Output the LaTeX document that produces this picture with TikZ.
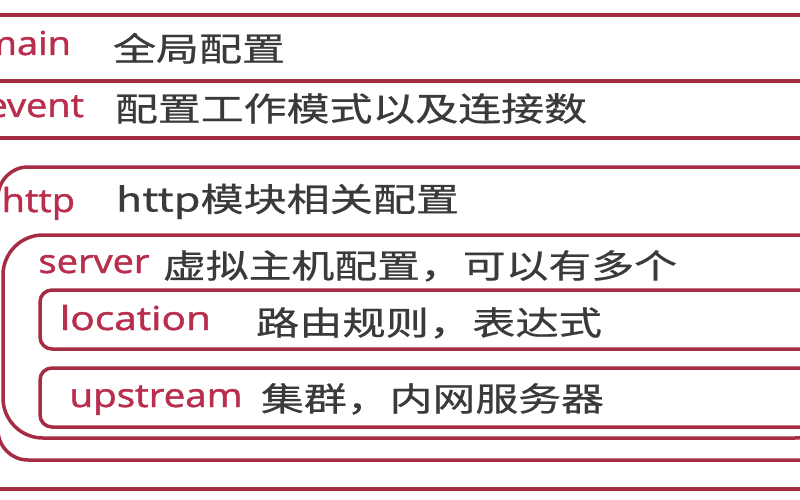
\documentclass[tikz,border=0pt]{standalone}
\usepackage{fontspec}
\setmainfont{Open Sans}
\newfontfamily\labfont{Open Sans}[FakeBold=1.3]
\newfontfamily\cjk{Noto Sans CJK SC}[FakeBold=0.6]
\usepackage{graphicx}
\definecolor{boxred}{RGB}{166,44,68}
\definecolor{labred}{RGB}{184,46,76}
\definecolor{txtgray}{RGB}{58,58,58}
\newcommand{\wfit}[2]{\resizebox{#1}{\height}{#2}}
\begin{document}
\begin{tikzpicture}[x=1pt,y=-1pt,
  frame/.style={draw=boxred,line width=3.5pt},
  lab/.style={inner sep=0pt,outer sep=0pt,text=labred,font=\labfont\fontsize{33}{36}\selectfont},
  desc/.style={inner sep=0pt,outer sep=0pt,text=txtgray,font=\cjk\fontsize{33}{36}\selectfont}]
\useasboundingbox (0,0) rectangle (800,500);
\fill[white] (0,0) rectangle (800,500);
\begin{scope}
\clip (0,0) rectangle (800,500);
% top lines (main / event)
\coordinate (l1a) at (-10,15);  \coordinate (l1b) at (810,15);
\coordinate (l2a) at (-10,81);  \coordinate (l2b) at (810,81);
\coordinate (l3a) at (-10,138); \coordinate (l3b) at (810,138);
\coordinate (l4a) at (-10,489); \coordinate (l4b) at (810,489);
\draw[frame] (l1a) -- (l1b);
\draw[frame] (l2a) -- (l2b);
\draw[frame] (l3a) -- (l3b);
\draw[frame] (l4a) -- (l4b);
% http box
\draw[frame,rounded corners=30pt] (-2,167) rectangle (840,460);
% server box
\draw[frame,rounded corners=40pt] (3,235) rectangle (835,438);
% location box
\draw[frame,rounded corners=12pt] (40,290) rectangle (830,349);
% upstream box
\draw[frame,rounded corners=12pt] (40,368) rectangle (830,427);
% labels
\node[lab,anchor=base east] (main) at (71,55) {\scalebox{1.15}[1]{main}};
\node[lab,anchor=base east] (event) at (84,117) {\scalebox{1.15}[1]{event}};
\node[lab,anchor=base east] (http) at (75,212) {\scalebox{1.15}[1]{http}};
\node[lab,anchor=base west] (server) at (38.5,273) {\wfit{111pt}{server}};
\node[lab,anchor=base west] (location) at (60,330) {\wfit{151pt}{location}};
\node[lab,anchor=base west] (upstream) at (69.5,407) {\wfit{173pt}{upstream}};
% descriptions
\node[desc,anchor=base west] (dmain) at (113,61) {\wfit{172pt}{全局配置}};
\node[desc,anchor=base west] (devent) at (115,121) {\wfit{472pt}{配置工作模式以及连接数}};
\node[desc,anchor=base west] (dhttp) at (116,211.5) {\wfit{343pt}{http模块相关配置}};
\node[desc,anchor=base west] (dserver) at (163,278) {\wfit{514pt}{虚拟主机配置，可以有多个}};
\node[desc,anchor=base west] (dloc) at (256,335) {\wfit{346pt}{路由规则，表达式}};
\node[desc,anchor=base west] (dup) at (261,411) {\wfit{343pt}{集群，内网服务器}};
\end{scope}
\end{tikzpicture}
\end{document}
